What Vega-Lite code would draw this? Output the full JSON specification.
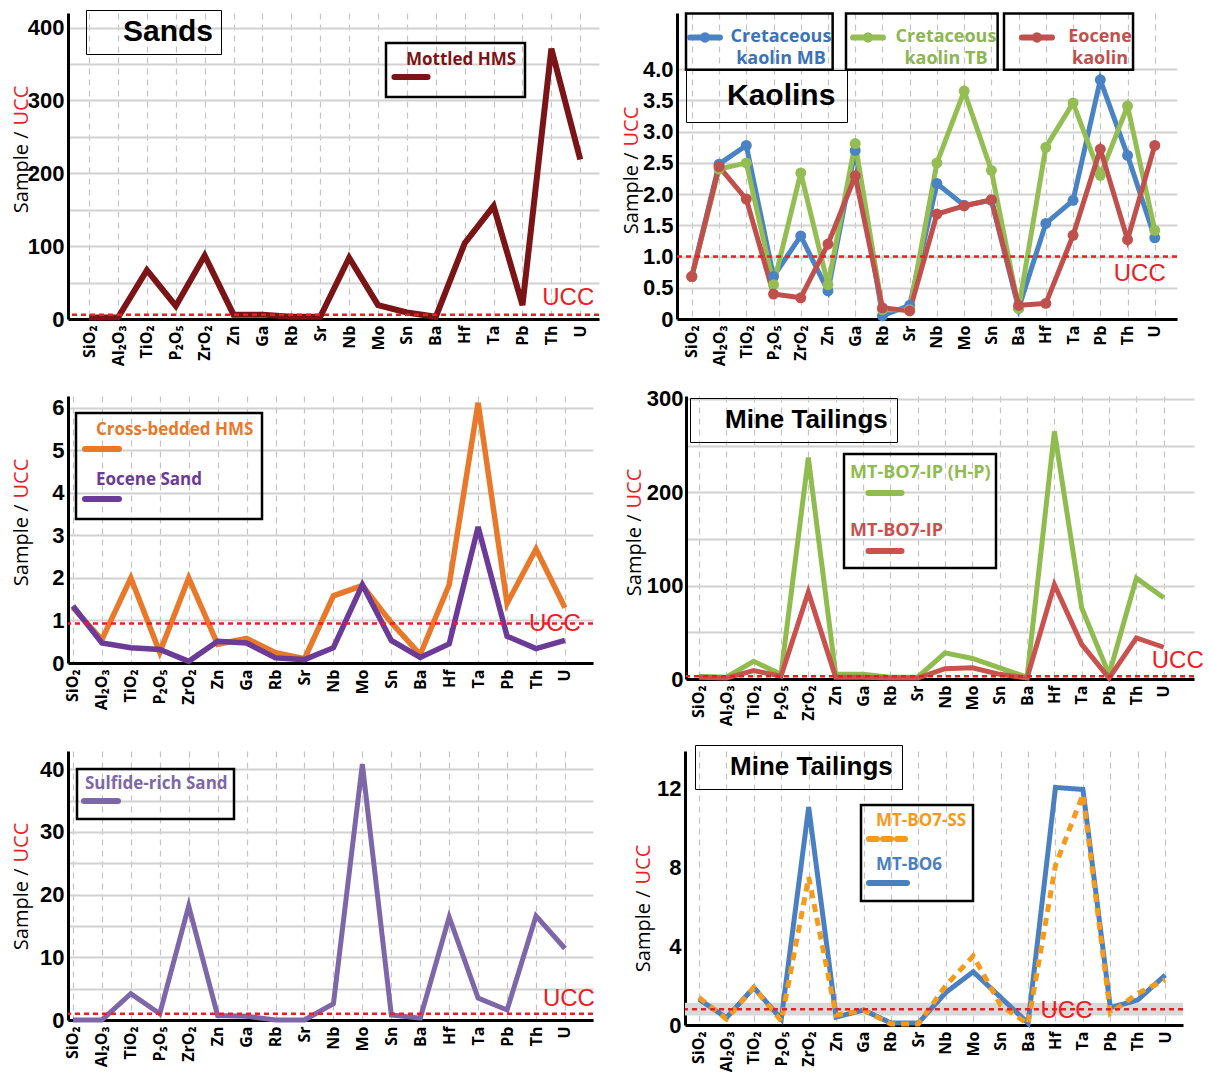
{
  "$schema": "https://vega.github.io/schema/vega-lite/v6.json",
  "padding": {"left": 10, "top": 9, "right": 0, "bottom": 0},
  "background": "white",
  "config": {
    "view": {"stroke": null},
    "font": "Open Sans",
    "axis": {"domainColor": "black", "domainWidth": 3, "ticks": false, "labelColor": "black", "gridColor": "#d2d2d2", "gridWidth": 2, "labelOverlap": false},
    "axisX": {"labelAngle": -90, "labelFont": "Open Sans", "labelFontSize": 16, "labelFontWeight": "bold", "labelPadding": 6, "gridDash": [6, 5], "gridColor": "#c4c4c4", "gridWidth": 1.2},
    "axisY": {"labelFont": "Liberation Sans", "labelFontSize": 22, "labelFontWeight": "bold", "labelPadding": 4, "titleFont": "Open Sans", "titleFontSize": 20, "titleFontWeight": "normal", "titleColor": "black", "titleBaseline": "middle", "titleAngle": -90},
    "legend": {"orient": "none", "labelFont": "Open Sans", "labelFontSize": 17, "labelFontWeight": "bold", "labelLimit": 500, "strokeColor": "black", "padding": 8, "symbolType": "stroke", "symbolStrokeWidth": 6, "labelBaseline": "middle"}
  },
  "datasets": {
    "p1": [
      {"el":"SiO₂","s":"Mottled HMS","v":2},{"el":"Al₂O₃","s":"Mottled HMS","v":2},{"el":"TiO₂","s":"Mottled HMS","v":67},{"el":"P₂O₅","s":"Mottled HMS","v":18},{"el":"ZrO₂","s":"Mottled HMS","v":87},{"el":"Zn","s":"Mottled HMS","v":6},{"el":"Ga","s":"Mottled HMS","v":6},{"el":"Rb","s":"Mottled HMS","v":3},{"el":"Sr","s":"Mottled HMS","v":3},{"el":"Nb","s":"Mottled HMS","v":84},{"el":"Mo","s":"Mottled HMS","v":19},{"el":"Sn","s":"Mottled HMS","v":9},{"el":"Ba","s":"Mottled HMS","v":3},{"el":"Hf","s":"Mottled HMS","v":104},{"el":"Ta","s":"Mottled HMS","v":155},{"el":"Pb","s":"Mottled HMS","v":19},{"el":"Th","s":"Mottled HMS","v":371},{"el":"U","s":"Mottled HMS","v":219}
    ],
    "p2": [
      {"el":"SiO₂","s":"Cretaceous kaolin MB","v":0.68},{"el":"Al₂O₃","s":"Cretaceous kaolin MB","v":2.48},{"el":"TiO₂","s":"Cretaceous kaolin MB","v":2.78},{"el":"P₂O₅","s":"Cretaceous kaolin MB","v":0.68},{"el":"ZrO₂","s":"Cretaceous kaolin MB","v":1.33},{"el":"Zn","s":"Cretaceous kaolin MB","v":0.45},{"el":"Ga","s":"Cretaceous kaolin MB","v":2.7},{"el":"Rb","s":"Cretaceous kaolin MB","v":0.05},{"el":"Sr","s":"Cretaceous kaolin MB","v":0.22},{"el":"Nb","s":"Cretaceous kaolin MB","v":2.17},{"el":"Mo","s":"Cretaceous kaolin MB","v":1.82},{"el":"Sn","s":"Cretaceous kaolin MB","v":1.9},{"el":"Ba","s":"Cretaceous kaolin MB","v":0.17},{"el":"Hf","s":"Cretaceous kaolin MB","v":1.53},{"el":"Ta","s":"Cretaceous kaolin MB","v":1.9},{"el":"Pb","s":"Cretaceous kaolin MB","v":3.83},{"el":"Th","s":"Cretaceous kaolin MB","v":2.62},{"el":"U","s":"Cretaceous kaolin MB","v":1.3},
      {"el":"SiO₂","s":"Cretaceous kaolin TB","v":0.68},{"el":"Al₂O₃","s":"Cretaceous kaolin TB","v":2.4},{"el":"TiO₂","s":"Cretaceous kaolin TB","v":2.5},{"el":"P₂O₅","s":"Cretaceous kaolin TB","v":0.55},{"el":"ZrO₂","s":"Cretaceous kaolin TB","v":2.34},{"el":"Zn","s":"Cretaceous kaolin TB","v":0.55},{"el":"Ga","s":"Cretaceous kaolin TB","v":2.81},{"el":"Rb","s":"Cretaceous kaolin TB","v":0.15},{"el":"Sr","s":"Cretaceous kaolin TB","v":0.15},{"el":"Nb","s":"Cretaceous kaolin TB","v":2.5},{"el":"Mo","s":"Cretaceous kaolin TB","v":3.65},{"el":"Sn","s":"Cretaceous kaolin TB","v":2.38},{"el":"Ba","s":"Cretaceous kaolin TB","v":0.17},{"el":"Hf","s":"Cretaceous kaolin TB","v":2.75},{"el":"Ta","s":"Cretaceous kaolin TB","v":3.46},{"el":"Pb","s":"Cretaceous kaolin TB","v":2.3},{"el":"Th","s":"Cretaceous kaolin TB","v":3.41},{"el":"U","s":"Cretaceous kaolin TB","v":1.42},
      {"el":"SiO₂","s":"Eocene kaolin","v":0.68},{"el":"Al₂O₃","s":"Eocene kaolin","v":2.44},{"el":"TiO₂","s":"Eocene kaolin","v":1.92},{"el":"P₂O₅","s":"Eocene kaolin","v":0.4},{"el":"ZrO₂","s":"Eocene kaolin","v":0.34},{"el":"Zn","s":"Eocene kaolin","v":1.2},{"el":"Ga","s":"Eocene kaolin","v":2.29},{"el":"Rb","s":"Eocene kaolin","v":0.18},{"el":"Sr","s":"Eocene kaolin","v":0.13},{"el":"Nb","s":"Eocene kaolin","v":1.68},{"el":"Mo","s":"Eocene kaolin","v":1.81},{"el":"Sn","s":"Eocene kaolin","v":1.91},{"el":"Ba","s":"Eocene kaolin","v":0.22},{"el":"Hf","s":"Eocene kaolin","v":0.25},{"el":"Ta","s":"Eocene kaolin","v":1.34},{"el":"Pb","s":"Eocene kaolin","v":2.72},{"el":"Th","s":"Eocene kaolin","v":1.27},{"el":"U","s":"Eocene kaolin","v":2.78}
    ],
    "p3": [
      {"el":"SiO₂","s":"Cross-bedded HMS","v":1.3},{"el":"Al₂O₃","s":"Cross-bedded HMS","v":0.55},{"el":"TiO₂","s":"Cross-bedded HMS","v":2.0},{"el":"P₂O₅","s":"Cross-bedded HMS","v":0.25},{"el":"ZrO₂","s":"Cross-bedded HMS","v":2.0},{"el":"Zn","s":"Cross-bedded HMS","v":0.44},{"el":"Ga","s":"Cross-bedded HMS","v":0.58},{"el":"Rb","s":"Cross-bedded HMS","v":0.24},{"el":"Sr","s":"Cross-bedded HMS","v":0.1},{"el":"Nb","s":"Cross-bedded HMS","v":1.58},{"el":"Mo","s":"Cross-bedded HMS","v":1.82},{"el":"Sn","s":"Cross-bedded HMS","v":0.95},{"el":"Ba","s":"Cross-bedded HMS","v":0.2},{"el":"Hf","s":"Cross-bedded HMS","v":1.84},{"el":"Ta","s":"Cross-bedded HMS","v":6.12},{"el":"Pb","s":"Cross-bedded HMS","v":1.4},{"el":"Th","s":"Cross-bedded HMS","v":2.68},{"el":"U","s":"Cross-bedded HMS","v":1.3},
      {"el":"SiO₂","s":"Eocene Sand","v":1.34},{"el":"Al₂O₃","s":"Eocene Sand","v":0.47},{"el":"TiO₂","s":"Eocene Sand","v":0.36},{"el":"P₂O₅","s":"Eocene Sand","v":0.32},{"el":"ZrO₂","s":"Eocene Sand","v":0.04},{"el":"Zn","s":"Eocene Sand","v":0.51},{"el":"Ga","s":"Eocene Sand","v":0.47},{"el":"Rb","s":"Eocene Sand","v":0.12},{"el":"Sr","s":"Eocene Sand","v":0.08},{"el":"Nb","s":"Eocene Sand","v":0.36},{"el":"Mo","s":"Eocene Sand","v":1.84},{"el":"Sn","s":"Eocene Sand","v":0.53},{"el":"Ba","s":"Eocene Sand","v":0.13},{"el":"Hf","s":"Eocene Sand","v":0.45},{"el":"Ta","s":"Eocene Sand","v":3.2},{"el":"Pb","s":"Eocene Sand","v":0.63},{"el":"Th","s":"Eocene Sand","v":0.34},{"el":"U","s":"Eocene Sand","v":0.53}
    ],
    "p4": [
      {"el":"SiO₂","s":"MT-BO7-IP (H-P)","v":3},{"el":"Al₂O₃","s":"MT-BO7-IP (H-P)","v":2},{"el":"TiO₂","s":"MT-BO7-IP (H-P)","v":19},{"el":"P₂O₅","s":"MT-BO7-IP (H-P)","v":5},{"el":"ZrO₂","s":"MT-BO7-IP (H-P)","v":237},{"el":"Zn","s":"MT-BO7-IP (H-P)","v":5},{"el":"Ga","s":"MT-BO7-IP (H-P)","v":5},{"el":"Rb","s":"MT-BO7-IP (H-P)","v":2},{"el":"Sr","s":"MT-BO7-IP (H-P)","v":2},{"el":"Nb","s":"MT-BO7-IP (H-P)","v":28},{"el":"Mo","s":"MT-BO7-IP (H-P)","v":22},{"el":"Sn","s":"MT-BO7-IP (H-P)","v":12},{"el":"Ba","s":"MT-BO7-IP (H-P)","v":2},{"el":"Hf","s":"MT-BO7-IP (H-P)","v":265},{"el":"Ta","s":"MT-BO7-IP (H-P)","v":76},{"el":"Pb","s":"MT-BO7-IP (H-P)","v":5},{"el":"Th","s":"MT-BO7-IP (H-P)","v":108},{"el":"U","s":"MT-BO7-IP (H-P)","v":87},
      {"el":"SiO₂","s":"MT-BO7-IP","v":2},{"el":"Al₂O₃","s":"MT-BO7-IP","v":1},{"el":"TiO₂","s":"MT-BO7-IP","v":9},{"el":"P₂O₅","s":"MT-BO7-IP","v":3},{"el":"ZrO₂","s":"MT-BO7-IP","v":93},{"el":"Zn","s":"MT-BO7-IP","v":2},{"el":"Ga","s":"MT-BO7-IP","v":2},{"el":"Rb","s":"MT-BO7-IP","v":1},{"el":"Sr","s":"MT-BO7-IP","v":1},{"el":"Nb","s":"MT-BO7-IP","v":11},{"el":"Mo","s":"MT-BO7-IP","v":12},{"el":"Sn","s":"MT-BO7-IP","v":5},{"el":"Ba","s":"MT-BO7-IP","v":1},{"el":"Hf","s":"MT-BO7-IP","v":101},{"el":"Ta","s":"MT-BO7-IP","v":37},{"el":"Pb","s":"MT-BO7-IP","v":1},{"el":"Th","s":"MT-BO7-IP","v":44},{"el":"U","s":"MT-BO7-IP","v":34}
    ],
    "p5": [
      {"el":"SiO₂","s":"Sulfide-rich Sand","v":0},{"el":"Al₂O₃","s":"Sulfide-rich Sand","v":0},{"el":"TiO₂","s":"Sulfide-rich Sand","v":4.2},{"el":"P₂O₅","s":"Sulfide-rich Sand","v":1.0},{"el":"ZrO₂","s":"Sulfide-rich Sand","v":18.2},{"el":"Zn","s":"Sulfide-rich Sand","v":0.7},{"el":"Ga","s":"Sulfide-rich Sand","v":0.6},{"el":"Rb","s":"Sulfide-rich Sand","v":0},{"el":"Sr","s":"Sulfide-rich Sand","v":0},{"el":"Nb","s":"Sulfide-rich Sand","v":2.6},{"el":"Mo","s":"Sulfide-rich Sand","v":40.8},{"el":"Sn","s":"Sulfide-rich Sand","v":0.8},{"el":"Ba","s":"Sulfide-rich Sand","v":0.3},{"el":"Hf","s":"Sulfide-rich Sand","v":16.4},{"el":"Ta","s":"Sulfide-rich Sand","v":3.5},{"el":"Pb","s":"Sulfide-rich Sand","v":1.6},{"el":"Th","s":"Sulfide-rich Sand","v":16.6},{"el":"U","s":"Sulfide-rich Sand","v":11.4}
    ],
    "p6": [
      {"el":"SiO₂","s":"MT-BO6","v":1.3},{"el":"Al₂O₃","s":"MT-BO6","v":0.37},{"el":"TiO₂","s":"MT-BO6","v":1.9},{"el":"P₂O₅","s":"MT-BO6","v":0.3},{"el":"ZrO₂","s":"MT-BO6","v":11.05},{"el":"Zn","s":"MT-BO6","v":0.4},{"el":"Ga","s":"MT-BO6","v":0.76},{"el":"Rb","s":"MT-BO6","v":0.1},{"el":"Sr","s":"MT-BO6","v":0.1},{"el":"Nb","s":"MT-BO6","v":1.65},{"el":"Mo","s":"MT-BO6","v":2.7},{"el":"Sn","s":"MT-BO6","v":1.4},{"el":"Ba","s":"MT-BO6","v":0.1},{"el":"Hf","s":"MT-BO6","v":12.05},{"el":"Ta","s":"MT-BO6","v":11.95},{"el":"Pb","s":"MT-BO6","v":0.88},{"el":"Th","s":"MT-BO6","v":1.27},{"el":"U","s":"MT-BO6","v":2.53},
      {"el":"SiO₂","s":"MT-BO7-SS","v":1.4},{"el":"Al₂O₃","s":"MT-BO7-SS","v":0.3},{"el":"TiO₂","s":"MT-BO7-SS","v":1.9},{"el":"P₂O₅","s":"MT-BO7-SS","v":0.2},{"el":"ZrO₂","s":"MT-BO7-SS","v":7.5},{"el":"Zn","s":"MT-BO7-SS","v":0.5},{"el":"Ga","s":"MT-BO7-SS","v":0.75},{"el":"Rb","s":"MT-BO7-SS","v":0.05},{"el":"Sr","s":"MT-BO7-SS","v":0.05},{"el":"Nb","s":"MT-BO7-SS","v":2.0},{"el":"Mo","s":"MT-BO7-SS","v":3.5},{"el":"Sn","s":"MT-BO7-SS","v":1.0},{"el":"Ba","s":"MT-BO7-SS","v":0.05},{"el":"Hf","s":"MT-BO7-SS","v":8.1},{"el":"Ta","s":"MT-BO7-SS","v":11.7},{"el":"Pb","s":"MT-BO7-SS","v":0.6},{"el":"Th","s":"MT-BO7-SS","v":1.6},{"el":"U","s":"MT-BO7-SS","v":2.3}
    ]
  },
  "resolve": {"scale": {"color": "independent", "shape": "independent", "strokeDash": "independent"}, "legend": {"color": "independent", "shape": "independent", "strokeDash": "independent"}},
  "columns": 1,
  "align": "none",
  "spacing": 21,
  "concat": [
    {
      "spacing": 20,
      "resolve": {"scale": {"color": "independent", "shape": "independent", "strokeDash": "independent"}, "legend": {"color": "independent", "shape": "independent", "strokeDash": "independent"}},
      "hconcat": [
        {
          "width": 531, "height": 306,
          "resolve": {"axis": {"y": "independent"}},
          "layer": [
            {
              "data": {"name": "p1"},
              "mark": {"type": "line", "strokeWidth": 6},
              "encoding": {
                "x": {"field": "el", "type": "ordinal", "sort": null, "scale": {"domain": ["SiO₂","Al₂O₃","TiO₂","P₂O₅","ZrO₂","Zn","Ga","Rb","Sr","Nb","Mo","Sn","Ba","Hf","Ta","Pb","Th","U"], "padding": 0.69, "align": 0.53}, "axis": {"title": null, "grid": true}},
                "y": {"field": "v", "type": "quantitative", "scale": {"domain": [0, 420], "nice": false}, "axis": {"title": "Sample /", "titleX": -47, "titleY": 118, "titleAlign": "right", "values": [0, 50, 100, 150, 200, 250, 300, 350, 400], "labelExpr": "datum.value % 100 ? '' : datum.label"}},
                "color": {"field": "s", "type": "nominal", "scale": {"domain": ["Mottled HMS"], "range": ["#7b1416"]},
                  "legend": {"title": null, "legendX": 318, "legendY": 30, "labelColor": "#7b1416", "symbolSize": 1100,
                    "encode": {"legend": {"update": {"strokeWidth": {"value": 2.5}}}, "labels": {"update": {"x": {"value": 12}, "y": {"value": 9}}}, "symbols": {"update": {"x": {"value": 17}, "y": {"value": 26}, "strokeCap": {"value": "round"}}}}}}
              }
            },
            {
              "data": {"values": [{"u": 6}]},
              "mark": {"type": "rule", "color": "#ee1c25", "strokeWidth": 2.5, "strokeDash": [5, 4]},
              "encoding": {"y": {"field": "u", "type": "quantitative", "scale": {"domain": [0, 420], "nice": false}, "axis": {"orient": "left", "title": "UCC", "titleColor": "#ee1c25", "titleX": -47, "titleY": 112, "titleAlign": "left", "labels": false, "ticks": false, "domain": false, "grid": false}}}
            },
            {
              "data": {"values": [{"u": 6, "el": "U", "t": "UCC"}]},
              "mark": {"type": "text", "color": "#ee1c25", "font": "Liberation Sans", "fontSize": 24, "align": "center", "baseline": "bottom", "dx": -12, "dy": -5},
              "encoding": {"x": {"field": "el", "type": "ordinal", "sort": null, "scale": {"domain": ["SiO₂","Al₂O₃","TiO₂","P₂O₅","ZrO₂","Zn","Ga","Rb","Sr","Nb","Mo","Sn","Ba","Hf","Ta","Pb","Th","U"], "padding": 0.69, "align": 0.53}}, "y": {"field": "u", "type": "quantitative", "scale": {"domain": [0, 420], "nice": false}, "axis": null}, "text": {"field": "t"}}
            },
            {
              "data": {"values": [{"t": "Sands"}]},
              "mark": {"type": "point", "opacity": 0},
              "encoding": {"shape": {"field": "t", "type": "nominal", "legend": {"title": null, "legendX": 18, "legendY": -3, "padding": 7, "labelFont": "Liberation Sans", "labelFontSize": 30, "labelColor": "black", "labelOffset": 0, "symbolSize": 0, "symbolStrokeWidth": 0, "symbolOpacity": 0, "labelExpr": "'\u00a0\u00a0\u00a0\u00a0\u00a0\u00a0\u00a0' + datum.label + '\u00a0\u00a0\u00a0\u00a0\u00a0\u00a0\u00a0'", "encode": {"legend": {"update": {"strokeWidth": {"value": 2.5}}}, "labels": {"update": {"x": {"value": 0}}}}}}}
            }
          ]
        },
        {
          "width": 500, "height": 306,
          "resolve": {"axis": {"y": "independent"}},
          "layer": [
            {
              "data": {"name": "p2"},
              "mark": {"type": "line", "strokeWidth": 5, "point": {"filled": true, "size": 120}},
              "encoding": {
                "x": {"field": "el", "type": "ordinal", "sort": null, "scale": {"domain": ["SiO₂","Al₂O₃","TiO₂","P₂O₅","ZrO₂","Zn","Ga","Rb","Sr","Nb","Mo","Sn","Ba","Hf","Ta","Pb","Th","U"], "padding": 0.68, "align": 0.4}, "axis": {"title": null, "grid": true}},
                "y": {"field": "v", "type": "quantitative", "scale": {"domain": [0, 4.9], "nice": false}, "axis": {"title": "Sample /", "titleX": -46, "titleY": 139, "titleAlign": "right", "values": [0, 0.5, 1, 1.5, 2, 2.5, 3, 3.5, 4], "labelExpr": "datum.value == 0 ? '0' : format(datum.value, '.1f')"}},
                "color": {"field": "s", "type": "nominal", "scale": {"domain": ["Cretaceous kaolin MB", "Cretaceous kaolin TB", "Eocene kaolin"], "range": ["#4a83c3", "#94be54", "#c0504d"]},
                  "legend": {"title": null, "legendX": 9, "legendY": 0, "direction": "horizontal", "columns": 3, "columnPadding": 6, "padding": 0, "strokeColor": "transparent",
                    "symbolType": "M-1,0H1M-0.15,0A0.15,0.15,0,1,1,0.15,0A0.15,0.15,0,1,1,-0.15,0", "symbolSize": 900, "symbolStrokeWidth": 6,
                    "labelFontSize": 18, "labelAlign": "center",
                    "labelExpr": "[slice(datum.label, 0, indexof(datum.label, ' ')), slice(datum.label, indexof(datum.label, ' ') + 1)]",
                    "encode": {
                      "entries": {"update": {"stroke": {"value": "black"}, "strokeWidth": {"value": 2.5}, "width": [{"test": "datum.value == 'Eocene kaolin'", "value": 147}, {"value": 162}], "height": {"value": 48}}},
                      "symbols": {"update": {"x": [{"test": "datum.value == 'Eocene kaolin'", "value": 33}, {"test": "datum.value == 'Cretaceous kaolin TB'", "value": 22}, {"value": 19}], "y": {"value": 24}, "strokeCap": {"value": "round"}}},
                      "labels": {"update": {"x": [{"test": "datum.value == 'Eocene kaolin'", "value": 96}, {"test": "datum.value == 'Cretaceous kaolin TB'", "value": 100}, {"value": 95}], "y": {"value": 24}, "lineHeight": {"value": 22},
                                 "fill": [{"test": "datum.value == 'Eocene kaolin'", "value": "#c0504d"}, {"test": "datum.value == 'Cretaceous kaolin TB'", "value": "#8db552"}, {"value": "#3b73b9"}]}}
                    }}}
              }
            },
            {
              "data": {"values": [{"u": 1}]},
              "mark": {"type": "rule", "color": "#ee1c25", "strokeWidth": 2.5, "strokeDash": [5, 4]},
              "encoding": {"y": {"field": "u", "type": "quantitative", "scale": {"domain": [0, 4.9], "nice": false}, "axis": {"orient": "left", "title": "UCC", "titleColor": "#ee1c25", "titleX": -46, "titleY": 133, "titleAlign": "left", "labels": false, "ticks": false, "domain": false, "grid": false}}}
            },
            {
              "data": {"values": [{"u": 1, "el": "U", "t": "UCC"}]},
              "mark": {"type": "text", "color": "#ee1c25", "font": "Liberation Sans", "fontSize": 24, "align": "center", "baseline": "top", "dx": -15, "dy": 5},
              "encoding": {"x": {"field": "el", "type": "ordinal", "sort": null, "scale": {"domain": ["SiO₂","Al₂O₃","TiO₂","P₂O₅","ZrO₂","Zn","Ga","Rb","Sr","Nb","Mo","Sn","Ba","Hf","Ta","Pb","Th","U"], "padding": 0.68, "align": 0.4}}, "y": {"field": "u", "type": "quantitative", "scale": {"domain": [0, 4.9], "nice": false}, "axis": null}, "text": {"field": "t"}}
            },
            {
              "data": {"values": [{"t": "Kaolins"}]},
              "mark": {"type": "point", "opacity": 0},
              "encoding": {"shape": {"field": "t", "type": "nominal", "legend": {"title": null, "legendX": 9, "legendY": 57, "padding": 11, "labelFont": "Liberation Sans", "labelFontSize": 30, "labelColor": "black", "labelOffset": 0, "symbolSize": 0, "symbolStrokeWidth": 0, "symbolOpacity": 0, "labelExpr": "'\u00a0' + datum.label + '\u00a0'", "encode": {"legend": {"update": {"strokeWidth": {"value": 2.5}}}, "labels": {"update": {"x": {"value": 0}}}}}}}
            }
          ]
        }
      ]
    },
    {
      "columns": 1,
      "align": "none",
      "spacing": 18,
      "resolve": {"scale": {"color": "independent", "shape": "independent", "strokeDash": "independent"}, "legend": {"color": "independent", "shape": "independent", "strokeDash": "independent"}},
      "concat": [
        {
          "spacing": 28,
          "resolve": {"scale": {"color": "independent", "shape": "independent", "strokeDash": "independent"}, "legend": {"color": "independent", "shape": "independent", "strokeDash": "independent"}},
          "hconcat": [
            {
              "width": 525, "height": 267,
              "resolve": {"axis": {"y": "independent"}},
              "layer": [
                {
                  "data": {"name": "p3"},
                  "mark": {"type": "line", "strokeWidth": 5.5},
                  "encoding": {
                    "x": {"field": "el", "type": "ordinal", "sort": null, "scale": {"domain": ["SiO₂","Al₂O₃","TiO₂","P₂O₅","ZrO₂","Zn","Ga","Rb","Sr","Nb","Mo","Sn","Ba","Hf","Ta","Pb","Th","U"], "padding": 0.57, "align": 0.15}, "axis": {"title": null, "grid": true}},
                    "y": {"field": "v", "type": "quantitative", "scale": {"domain": [0, 6.28], "nice": false}, "axis": {"title": "Sample /", "titleX": -47, "titleY": 108, "titleAlign": "right", "values": [0, 1, 2, 3, 4, 5, 6]}},
                    "color": {"field": "s", "type": "nominal", "scale": {"domain": ["Cross-bedded HMS", "Eocene Sand"], "range": ["#e8792a", "#6c3b98"]},
                      "legend": {"title": null, "legendX": 8, "legendY": 17, "rowPadding": 10, "symbolSize": 1156,
                        "encode": {"legend": {"update": {"strokeWidth": {"value": 2.5}}}, "labels": {"update": {"x": {"value": 12}, "y": {"value": 9}, "fill": [{"test": "datum.value == 'Eocene Sand'", "value": "#6c3b98"}, {"value": "#e8792a"}]}}, "symbols": {"update": {"x": {"value": 18}, "y": {"value": 28}, "strokeCap": {"value": "round"}}}}}}
                  }
                },
                {
                  "data": {"values": [{"u": 0.93}]},
                  "mark": {"type": "rule", "color": "#ee1c25", "strokeWidth": 2.5, "strokeDash": [5, 4]},
                  "encoding": {"y": {"field": "u", "type": "quantitative", "scale": {"domain": [0, 6.28], "nice": false}, "axis": {"orient": "left", "title": "UCC", "titleColor": "#ee1c25", "titleX": -47, "titleY": 102, "titleAlign": "left", "labels": false, "ticks": false, "domain": false, "grid": false}}}
                },
                {
                  "data": {"values": [{"u": 0.93, "el": "U", "t": "UCC"}]},
                  "mark": {"type": "text", "color": "#ee1c25", "font": "Liberation Sans", "fontSize": 24, "align": "center", "baseline": "middle", "dx": -10, "dy": 1},
                  "encoding": {"x": {"field": "el", "type": "ordinal", "sort": null, "scale": {"domain": ["SiO₂","Al₂O₃","TiO₂","P₂O₅","ZrO₂","Zn","Ga","Rb","Sr","Nb","Mo","Sn","Ba","Hf","Ta","Pb","Th","U"], "padding": 0.57, "align": 0.15}}, "y": {"field": "u", "type": "quantitative", "scale": {"domain": [0, 6.28], "nice": false}, "axis": null}, "text": {"field": "t"}}
                }
              ]
            },
            {
              "width": 508, "height": 283,
              "resolve": {"axis": {"y": "independent"}},
              "layer": [
                {
                  "data": {"name": "p4"},
                  "mark": {"type": "line", "strokeWidth": 5},
                  "encoding": {
                    "x": {"field": "el", "type": "ordinal", "sort": null, "scale": {"domain": ["SiO₂","Al₂O₃","TiO₂","P₂O₅","ZrO₂","Zn","Ga","Rb","Sr","Nb","Mo","Sn","Ba","Hf","Ta","Pb","Th","U"], "padding": 0.79, "align": 0.3}, "axis": {"title": null, "grid": true}},
                    "y": {"field": "v", "type": "quantitative", "scale": {"domain": [0, 303], "nice": false}, "axis": {"title": "Sample /", "titleX": -52, "titleY": 118, "titleAlign": "right", "labelPadding": 3, "values": [0, 50, 100, 150, 200, 250, 300], "labelExpr": "datum.value % 100 ? '' : datum.label"}},
                    "color": {"field": "s", "type": "nominal", "scale": {"domain": ["MT-BO7-IP (H-P)", "MT-BO7-IP"], "range": ["#8fbb4f", "#c9524f"]},
                      "legend": {"title": null, "legendX": 158, "legendY": 58, "padding": 5, "rowPadding": 12, "symbolSize": 1089, "labelFontSize": 18,
                        "encode": {"legend": {"update": {"strokeWidth": {"value": 2.5}}}, "labels": {"update": {"x": {"value": 1}, "y": {"value": 14}, "fill": [{"test": "datum.value == 'MT-BO7-IP'", "value": "#c9524f"}, {"value": "#8fbb4f"}]}}, "symbols": {"update": {"x": {"value": 36}, "y": {"value": 34}, "strokeCap": {"value": "round"}}}}}}
                  }
                },
                {
                  "data": {"values": [{"u": 3}]},
                  "mark": {"type": "rule", "color": "#ee1c25", "strokeWidth": 2.5, "strokeDash": [5, 4]},
                  "encoding": {"y": {"field": "u", "type": "quantitative", "scale": {"domain": [0, 303], "nice": false}, "axis": {"orient": "left", "title": "UCC", "titleColor": "#ee1c25", "titleX": -52, "titleY": 112, "titleAlign": "left", "labels": false, "ticks": false, "domain": false, "grid": false}}}
                },
                {
                  "data": {"values": [{"u": 3, "el": "U", "t": "UCC"}]},
                  "mark": {"type": "text", "color": "#ee1c25", "font": "Liberation Sans", "fontSize": 24, "align": "center", "baseline": "bottom", "dx": 14, "dy": -3},
                  "encoding": {"x": {"field": "el", "type": "ordinal", "sort": null, "scale": {"domain": ["SiO₂","Al₂O₃","TiO₂","P₂O₅","ZrO₂","Zn","Ga","Rb","Sr","Nb","Mo","Sn","Ba","Hf","Ta","Pb","Th","U"], "padding": 0.79, "align": 0.3}}, "y": {"field": "u", "type": "quantitative", "scale": {"domain": [0, 303], "nice": false}, "axis": null}, "text": {"field": "t"}}
                },
                {
                  "data": {"values": [{"t": "Mine Tailings"}]},
                  "mark": {"type": "point", "opacity": 0},
                  "encoding": {"shape": {"field": "t", "type": "nominal", "legend": {"title": null, "legendX": 4, "legendY": 2, "padding": 9, "labelFont": "Liberation Sans", "labelFontSize": 26, "labelColor": "black", "labelOffset": 0, "symbolSize": 0, "symbolStrokeWidth": 0, "symbolOpacity": 0, "encode": {"legend": {"update": {"strokeWidth": {"value": 2.5}}}, "labels": {"update": {"x": {"value": 0}}}}}}}
                }
              ]
            }
          ]
        },
        {
          "spacing": 38,
          "resolve": {"scale": {"color": "independent", "shape": "independent", "strokeDash": "independent"}, "legend": {"color": "independent", "shape": "independent", "strokeDash": "independent"}},
          "hconcat": [
            {
              "width": 525, "height": 269,
              "resolve": {"axis": {"y": "independent"}},
              "layer": [
                {
                  "data": {"name": "p5"},
                  "mark": {"type": "line", "strokeWidth": 5},
                  "encoding": {
                    "x": {"field": "el", "type": "ordinal", "sort": null, "scale": {"domain": ["SiO₂","Al₂O₃","TiO₂","P₂O₅","ZrO₂","Zn","Ga","Rb","Sr","Nb","Mo","Sn","Ba","Hf","Ta","Pb","Th","U"], "padding": 0.57, "align": 0.15}, "axis": {"title": null, "grid": true}},
                    "y": {"field": "v", "type": "quantitative", "scale": {"domain": [0, 42.9], "nice": false}, "axis": {"title": "Sample /", "titleX": -47, "titleY": 117, "titleAlign": "right", "values": [0, 5, 10, 15, 20, 25, 30, 35, 40], "labelExpr": "datum.value % 10 ? '' : datum.label"}},
                    "color": {"field": "s", "type": "nominal", "scale": {"domain": ["Sulfide-rich Sand"], "range": ["#7d67a8"]},
                      "legend": {"title": null, "legendX": 9, "legendY": 18, "padding": 6, "symbolSize": 1156, "labelColor": "#7d67a8",
                        "encode": {"legend": {"update": {"strokeWidth": {"value": 2.5}}}, "labels": {"update": {"x": {"value": 2}, "y": {"value": 9}}}, "symbols": {"update": {"x": {"value": 18}, "y": {"value": 26}, "strokeCap": {"value": "round"}}}}}}
                  }
                },
                {
                  "data": {"values": [{"u": 1}]},
                  "mark": {"type": "rule", "color": "#ee1c25", "strokeWidth": 2.5, "strokeDash": [5, 4]},
                  "encoding": {"y": {"field": "u", "type": "quantitative", "scale": {"domain": [0, 42.9], "nice": false}, "axis": {"orient": "left", "title": "UCC", "titleColor": "#ee1c25", "titleX": -47, "titleY": 111, "titleAlign": "left", "labels": false, "ticks": false, "domain": false, "grid": false}}}
                },
                {
                  "data": {"values": [{"u": 1, "el": "U", "t": "UCC"}]},
                  "mark": {"type": "text", "color": "#ee1c25", "font": "Liberation Sans", "fontSize": 24, "align": "center", "baseline": "bottom", "dx": 4, "dy": -3},
                  "encoding": {"x": {"field": "el", "type": "ordinal", "sort": null, "scale": {"domain": ["SiO₂","Al₂O₃","TiO₂","P₂O₅","ZrO₂","Zn","Ga","Rb","Sr","Nb","Mo","Sn","Ba","Hf","Ta","Pb","Th","U"], "padding": 0.57, "align": 0.15}}, "y": {"field": "u", "type": "quantitative", "scale": {"domain": [0, 42.9], "nice": false}, "axis": null}, "text": {"field": "t"}}
                }
              ]
            },
            {
              "width": 498, "height": 274,
              "resolve": {"axis": {"y": "independent"}},
              "layer": [
                {
                  "data": {"values": [{"lo": 0.48, "hi": 1.13}]},
                  "mark": {"type": "rect", "color": "#d9d9d9"},
                  "encoding": {"y": {"field": "lo", "type": "quantitative", "scale": {"domain": [0, 13.9], "nice": false}, "axis": null}, "y2": {"field": "hi"}}
                },
                {
                  "data": {"name": "p6"},
                  "mark": {"type": "line", "strokeWidth": 5},
                  "encoding": {
                    "x": {"field": "el", "type": "ordinal", "sort": null, "scale": {"domain": ["SiO₂","Al₂O₃","TiO₂","P₂O₅","ZrO₂","Zn","Ga","Rb","Sr","Nb","Mo","Sn","Ba","Hf","Ta","Pb","Th","U"], "padding": 0.58, "align": 0.44}, "axis": {"title": null, "grid": true}},
                    "y": {"field": "v", "type": "quantitative", "scale": {"domain": [0, 13.9], "nice": false}, "axis": {"title": "Sample /", "titleX": -42, "titleY": 139, "titleAlign": "right", "values": [0, 2, 4, 6, 8, 10, 12], "labelExpr": "datum.value % 4 ? '' : datum.label"}},
                    "color": {"field": "s", "type": "nominal", "scale": {"domain": ["MT-BO7-SS", "MT-BO6"], "range": ["#f49b1c", "#4a80c1"]},
                      "legend": {"title": null, "legendX": 176, "legendY": 54, "padding": 6, "rowPadding": 4, "symbolSize": 1444,
                        "encode": {"legend": {"update": {"strokeWidth": {"value": 2.5}}}, "labels": {"update": {"x": {"value": 9}, "y": {"value": 10}, "fill": [{"test": "datum.value == 'MT-BO6'", "value": "#4a80c1"}, {"value": "#f49b1c"}]}}, "symbols": {"update": {"x": {"value": 21}, "y": {"value": 28}, "strokeCap": {"value": "round"}}}}}},
                    "strokeDash": {"field": "s", "type": "nominal", "scale": {"domain": ["MT-BO7-SS", "MT-BO6"], "range": [[8, 6], [1, 0]]},
                      "legend": {"title": null, "legendX": 176, "legendY": 54, "padding": 6, "rowPadding": 4, "symbolSize": 1444,
                        "encode": {"legend": {"update": {"strokeWidth": {"value": 2.5}}}, "labels": {"update": {"x": {"value": 9}, "y": {"value": 10}, "fill": [{"test": "datum.value == 'MT-BO6'", "value": "#4a80c1"}, {"value": "#f49b1c"}]}}, "symbols": {"update": {"x": {"value": 21}, "y": {"value": 28}, "strokeCap": {"value": "round"}}}}}}
                  }
                },
                {
                  "data": {"values": [{"u": 0.8}]},
                  "mark": {"type": "rule", "color": "#ee1c25", "strokeWidth": 2.5, "strokeDash": [5, 4]},
                  "encoding": {"y": {"field": "u", "type": "quantitative", "scale": {"domain": [0, 13.9], "nice": false}, "axis": {"orient": "left", "title": "UCC", "titleColor": "#ee1c25", "titleX": -42, "titleY": 133, "titleAlign": "left", "labels": false, "ticks": false, "domain": false, "grid": false}}}
                },
                {
                  "data": {"values": [{"u": 0.8, "el": "Hf", "t": "UCC"}]},
                  "mark": {"type": "text", "color": "#ee1c25", "font": "Liberation Sans", "fontSize": 24, "align": "center", "baseline": "middle", "dx": 11, "dy": 2},
                  "encoding": {"x": {"field": "el", "type": "ordinal", "sort": null, "scale": {"domain": ["SiO₂","Al₂O₃","TiO₂","P₂O₅","ZrO₂","Zn","Ga","Rb","Sr","Nb","Mo","Sn","Ba","Hf","Ta","Pb","Th","U"], "padding": 0.58, "align": 0.44}}, "y": {"field": "u", "type": "quantitative", "scale": {"domain": [0, 13.9], "nice": false}, "axis": null}, "text": {"field": "t"}}
                },
                {
                  "data": {"values": [{"t": "Mine Tailings"}]},
                  "mark": {"type": "point", "opacity": 0},
                  "encoding": {"shape": {"field": "t", "type": "nominal", "legend": {"title": null, "legendX": 10, "legendY": -6, "padding": 9, "labelFont": "Liberation Sans", "labelFontSize": 26, "labelColor": "black", "labelOffset": 0, "symbolSize": 0, "symbolStrokeWidth": 0, "symbolOpacity": 0, "encode": {"legend": {"update": {"strokeWidth": {"value": 2.5}}}, "labels": {"update": {"x": {"value": 0}}}}}}}
                }
              ]
            }
          ]
        }
      ]
    }
  ]
}
